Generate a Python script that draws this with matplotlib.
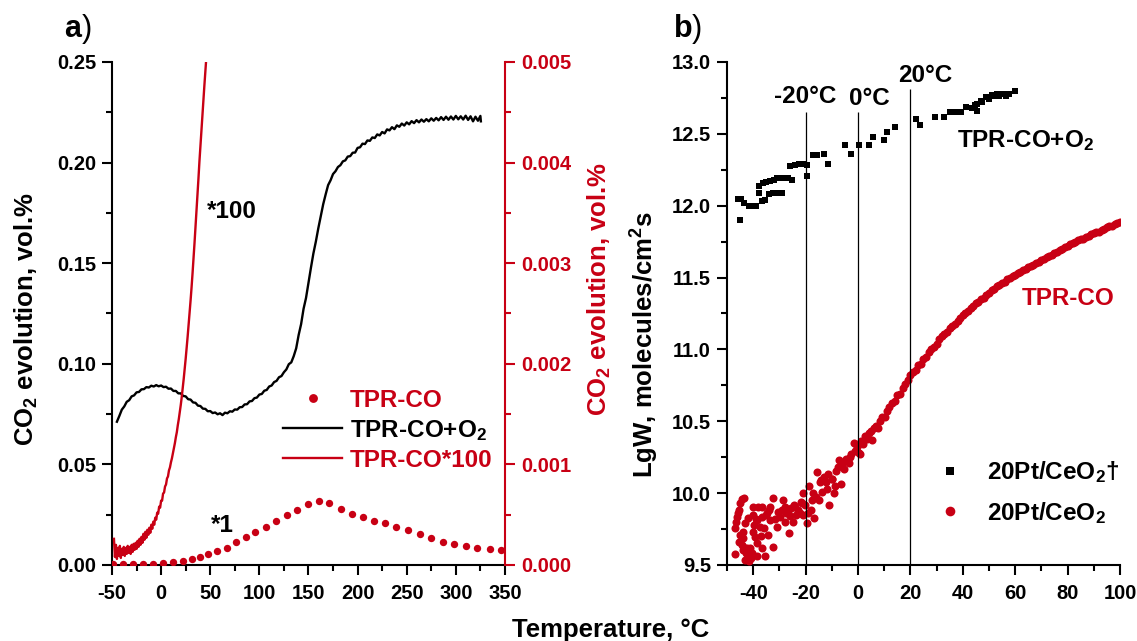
import matplotlib
matplotlib.use('Agg')
import matplotlib.pyplot as plt
from matplotlib.ticker import MultipleLocator, FormatStrFormatter

plt.rcParams['font.family'] = ['Liberation Sans', 'DejaVu Sans']
plt.rcParams['font.weight'] = 'bold'
plt.rcParams['mathtext.fontset'] = 'custom'
plt.rcParams['mathtext.rm'] = 'Liberation Sans:bold'
plt.rcParams['mathtext.it'] = 'Liberation Sans:bold:italic'
plt.rcParams['mathtext.bf'] = 'Liberation Sans:bold'
plt.rcParams['mathtext.default'] = 'rm'
plt.rcParams['axes.unicode_minus'] = False

RED = '#c80014'

# ---------------- panel a data ----------------
# TPR-CO (dots, left axis, *1)
tpr_T = [-48.6, -38.5, -28.3, -18.1, -8.0, 2.2, 12.4, 22.6, 31.1, 39.6, 48.1, 57.2,
         66.7, 76.2, 86.4, 95.9, 106.4, 116.9, 127.8, 138.6, 149.8, 160.4, 171.2,
         182.8, 194.1, 205.7, 216.7, 228.0, 239.6, 251.3, 263.3, 275.0, 287.0,
         298.6, 310.3, 322.0, 334.3, 346.0]
tpr_v = [0.0006, 0.0006, 0.0006, 0.0006, 0.0007, 0.0009, 0.0013, 0.0020, 0.0029,
         0.0042, 0.0056, 0.0070, 0.0085, 0.0112, 0.0137, 0.0165, 0.0191, 0.0220,
         0.0246, 0.0274, 0.0305, 0.0319, 0.0310, 0.0280, 0.0254, 0.0237, 0.0219,
         0.0207, 0.0191, 0.0174, 0.0153, 0.0133, 0.0116, 0.0103, 0.0093, 0.0083,
         0.0078, 0.0075]

# TPR-CO+O2 (black line, left axis)
o2_T = [-45.0, -42.5, -40.0, -37.5, -35.0, -32.5, -30.0, -27.5, -25.0, -22.5, -20.0,
        -17.5, -15.0, -12.5, -10.0, -7.5, -5.0, -2.5, 0.0, 2.5, 5.0, 7.5, 10.0, 12.5,
        15.0, 17.5, 20.0, 22.5, 25.0, 27.5, 30.0, 32.5, 35.0, 37.5, 40.0, 42.5, 45.0,
        47.5, 50.0, 52.5, 55.0, 57.5, 60.0, 62.5, 65.0, 67.5, 70.0, 72.5, 75.0, 77.5,
        80.0, 82.5, 85.0, 87.5, 90.0, 92.5, 95.0, 97.5, 100.0, 102.5, 105.0, 107.5,
        110.0, 112.5, 115.0, 117.5, 120.0, 122.5, 125.0, 127.5, 130.0, 132.5, 135.0,
        137.5, 140.0, 142.5, 145.0, 147.5, 150.0, 152.5, 155.0, 157.5, 160.0, 162.5,
        165.0, 167.5, 170.0, 172.5, 175.0, 177.5, 180.0, 182.5, 185.0, 187.5, 190.0,
        192.5, 195.0, 197.5, 200.0, 202.5, 205.0, 207.5, 210.0, 212.5, 215.0, 217.5,
        220.0, 222.5, 225.0, 227.5, 230.0, 232.5, 235.0, 237.5, 240.0, 242.5, 245.0,
        247.5, 250.0, 252.5, 255.0, 257.5, 260.0, 262.5, 265.0, 267.5, 270.0, 272.5,
        275.0, 277.5, 280.0, 282.5, 285.0, 287.5, 290.0, 292.5, 295.0, 297.5, 300.0,
        302.5, 305.0, 307.5, 310.0, 312.5, 315.0, 317.5, 320.0, 322.5, 325.0, 325.5]
o2_v = [0.0712, 0.0741, 0.0772, 0.0788, 0.0811, 0.0819, 0.0838, 0.0843, 0.0858, 0.0860,
        0.0873, 0.0874, 0.0884, 0.0882, 0.0891, 0.0887, 0.0894, 0.0888, 0.0892, 0.0884,
        0.0886, 0.0876, 0.0877, 0.0865, 0.0865, 0.0853, 0.0853, 0.0840, 0.0838, 0.0824,
        0.0822, 0.0808, 0.0806, 0.0792, 0.0790, 0.0777, 0.0776, 0.0764, 0.0765, 0.0755,
        0.0758, 0.0749, 0.0754, 0.0745, 0.0757, 0.0754, 0.0764, 0.0762, 0.0773, 0.0772,
        0.0784, 0.0785, 0.0798, 0.0799, 0.0813, 0.0815, 0.0829, 0.0832, 0.0847, 0.0850,
        0.0866, 0.0870, 0.0887, 0.0892, 0.0909, 0.0915, 0.0933, 0.0939, 0.0958, 0.0972,
        0.0998, 0.1007, 0.1038, 0.1077, 0.1143, 0.1197, 0.1273, 0.1327, 0.1403, 0.1477,
        0.1548, 0.1607, 0.1673, 0.1732, 0.1793, 0.1842, 0.1888, 0.1912, 0.1943, 0.1957,
        0.1978, 0.1987, 0.2006, 0.2011, 0.2030, 0.2032, 0.2049, 0.2050, 0.2073, 0.2076,
        0.2094, 0.2092, 0.2110, 0.2108, 0.2125, 0.2122, 0.2140, 0.2135, 0.2152, 0.2145,
        0.2165, 0.2160, 0.2176, 0.2166, 0.2185, 0.2178, 0.2194, 0.2184, 0.2200, 0.2190,
        0.2206, 0.2196, 0.2211, 0.2200, 0.2214, 0.2203, 0.2216, 0.2205, 0.2220, 0.2208,
        0.2222, 0.2210, 0.2226, 0.2212, 0.2228, 0.2213, 0.2229, 0.2214, 0.2232, 0.2215,
        0.2230, 0.2214, 0.2233, 0.2212, 0.2230, 0.2205, 0.2228, 0.2208, 0.2232, 0.2205]

# TPR-CO*100 (red line, right axis)
x100_T = [-48, -47, -46, -45, -44, -43, -42, -41, -40, -39, -38, -37, -36, -35, -34,
          -33, -32, -31, -30, -29, -28, -27, -26, -25, -24, -23, -22, -21, -20, -19,
          -18, -17, -16, -15, -14, -13, -12, -11, -10, -9, -8, -7, -6, -5, -4, -3, -2,
          -1, 0, 1, 2, 3, 4, 5, 6, 7, 8, 9, 10, 11, 12, 13, 14, 15, 16, 17, 18, 19, 20,
          21, 22, 23, 24, 25, 26, 27, 28, 29, 30, 31, 32, 33, 34, 35, 36, 37, 38, 39,
          40, 41, 42, 43, 44, 45, 46]
x100_v = [0.00026, 0.00008, 0.00020, 0.00006, 0.00017, 0.00009, 0.00019, 0.00007,
          0.00016, 0.00010, 0.00018, 0.00009, 0.00017, 0.00011, 0.00019, 0.00012,
          0.00018, 0.00011, 0.00020, 0.00013, 0.00021, 0.00015, 0.00022, 0.00016,
          0.00024, 0.00018, 0.00026, 0.00020, 0.00028, 0.00022, 0.00031, 0.00025,
          0.00033, 0.00027, 0.00035, 0.00030, 0.00037, 0.00032, 0.00040, 0.00036,
          0.00043, 0.00040, 0.00047, 0.00045, 0.00052, 0.00051, 0.00058, 0.00057,
          0.00064, 0.00064, 0.00071, 0.00072, 0.00078, 0.00080, 0.00086, 0.00088,
          0.00094, 0.00097, 0.00102, 0.00106, 0.00111, 0.00116, 0.00121, 0.00127,
          0.00132, 0.00139, 0.00145, 0.00152, 0.00159, 0.00167, 0.00176, 0.00185,
          0.00195, 0.00205, 0.00216, 0.00227, 0.00239, 0.00251, 0.00263, 0.00276,
          0.00290, 0.00305, 0.00320, 0.00336, 0.00352, 0.00368, 0.00384, 0.00401,
          0.00416, 0.00431, 0.00446, 0.00461, 0.00476, 0.00490, 0.00504]

# ---------------- panel b data ----------------
sq_T = [-45.9, -44.5, -45.0, -43.4, -41.7, -40.3, -38.9, -37.8, -36.6, -35.5, -37.8,
        -36.4, -35.0, -33.6, -32.2, -30.8, -29.4, -28.0, -26.6, -25.2, -34.1, -32.4,
        -30.8, -29.1, -25.9, -24.1, -22.4, -21.0, -19.3, -19.3, -17.1, -15.7, -12.9,
        -11.5, -4.9, -2.8, 0.3, 4.2, 5.6, 9.8, 10.9, 14.3, 22.1, 23.8, 29.4, 32.9,
        35.0, 37.1, 39.2, 41.3, 43.4, 45.5, 45.5, 46.9, 49.0, 51.0, 53.1, 55.2, 57.6,
        59.9, 44.5, 47.5, 50.0, 52.0, 54.0, 56.5]
sq_v = [12.05, 12.05, 11.90, 12.02, 12.00, 11.995, 12.00, 12.09, 12.03, 12.04, 12.14,
        12.16, 12.165, 12.17, 12.18, 12.19, 12.195, 12.195, 12.19, 12.18, 12.08, 12.09,
        12.09, 12.09, 12.275, 12.285, 12.29, 12.29, 12.285, 12.21, 12.35, 12.35, 12.36,
        12.29, 12.42, 12.36, 12.42, 12.42, 12.48, 12.46, 12.51, 12.55, 12.60, 12.56,
        12.62, 12.62, 12.65, 12.655, 12.655, 12.69, 12.68, 12.66, 12.71, 12.73, 12.755,
        12.77, 12.78, 12.775, 12.78, 12.795, 12.70, 12.72, 12.745, 12.76, 12.76, 12.765]

circ_T = [-46.9, -47.0, -46.2, -45.6, -44.4, -43.5, -45.0, -45.3, -44.4, -43.8, -42.8,
          -41.9, -42.5, -41.2, -43.1, -40.6, -43.8, -43.1, -41.9, -40.0, -40.0, -38.1,
          -36.8, -38.7, -40.0, -39.4, -38.5, -37.5, -36.5, -35.2, -35.6, -38.5, -36.5,
          -33.6, -32.4, -33.6, -34.3, -32.6, -31.1, -29.9, -28.6, -27.3, -26.4, -25.4,
          -24.5, -23.5, -22.8, -21.9, -20.9, -20.3, -19.6, -19.0, -20.9, -18.6, -17.7,
          -16.8, -16.0, -15.5, -14.5, -13.8, -12.9, -11.9, -10.9, -10.0, -9.3, -8.3,
          -7.2, -6.4, -5.2, -3.6, -2.7, -1.3, 0.6, -1.6, 1.9, 2.8, 4.1, 5.3, 6.0, 8.5,
          10.4,
          -46.5, -45.8, -44.9, -44.0, -43.0, -42.0, -41.5, -40.8, -39.8, -39.0, -37.2,
          -36.0, -34.8, -34.0, -31.8, -30.5, -29.0, -28.0, -27.8, -26.8, -25.9, -24.8,
          -23.9, -22.0, -21.3, -18.0, -17.3, -15.0, -14.0, -12.2, -11.3, -9.8, -8.8,
          -7.8, -6.0, -4.5, -3.0, -0.5, 0.2, 1.0, 3.5, 4.8, 6.8, 7.5, 9.2,
          11, 12, 13, 14, 15, 16, 17, 18, 19, 20, 21, 22, 23, 24, 25, 26, 27, 28, 29, 30,
          31, 32, 33, 34, 35, 36, 37, 38, 39, 40, 41, 42, 43, 44, 45, 46, 47, 48, 49, 50,
          51, 52, 53, 54, 55, 56, 57, 58, 59, 60, 61, 62, 63, 64, 65, 66, 67, 68, 69, 70,
          71, 72, 73, 74, 75, 76, 77, 78, 79, 80, 81, 82, 83, 84, 85, 86, 87, 88, 89, 90,
          91, 92, 93, 94, 95, 96, 97, 98, 99, 100]
circ_v = [9.577, 9.755, 9.836, 9.883, 9.957, 9.964, 9.709, 9.663, 9.64, 9.605, 9.582,
          9.559, 9.617, 9.617, 9.536, 9.582, 9.732, 9.79, 9.825, 9.906, 9.848, 9.902,
          9.906, 9.813, 9.732, 9.697, 9.651, 9.767, 9.836, 9.848, 9.559, 9.559, 9.617,
          9.906, 9.964, 9.813, 9.709, 9.628, 9.767, 9.836, 9.952, 9.859, 9.72, 9.894,
          9.917, 9.848, 9.883, 9.94, 9.998, 9.917, 9.79, 9.859, 9.848, 10.049, 9.952,
          9.825, 9.975, 10.15, 10.075, 10.006, 10.11, 10.03, 9.92, 10.10, 10.0, 10.156,
          10.23, 10.06, 10.167, 10.213, 10.27, 10.295, 10.27, 10.35, 10.34, 10.40, 10.42,
          10.37, 10.45, 10.50, 10.53,
          9.80, 9.86, 9.93, 9.69, 9.62, 9.60, 9.53, 9.55, 9.78, 9.82, 9.70,
          9.76, 9.86, 9.88, 9.82, 9.87, 9.88, 9.80, 9.90, 9.86, 9.84, 9.80,
          9.90, 9.86, 9.93, 9.88, 10.00, 9.95, 10.09, 10.08, 10.13, 10.10, 10.05,
          10.18, 10.20, 10.24, 10.25, 10.32, 10.28, 10.36, 10.38, 10.43, 10.47, 10.45, 10.53,
          10.57, 10.60, 10.63, 10.64, 10.68, 10.69, 10.73, 10.76, 10.79, 10.82, 10.84,
          10.86, 10.89, 10.90, 10.93, 10.95, 10.98, 11.00, 11.02, 11.04, 11.07, 11.09,
          11.11, 11.12, 11.15, 11.16, 11.18, 11.20, 11.22, 11.24, 11.25, 11.27, 11.29,
          11.30, 11.32, 11.33, 11.35, 11.36, 11.38, 11.39, 11.41, 11.42, 11.44, 11.45,
          11.46, 11.47, 11.49, 11.50, 11.51, 11.52, 11.53, 11.54, 11.55, 11.56, 11.57,
          11.58, 11.59, 11.60, 11.61, 11.62, 11.63, 11.64, 11.65, 11.66, 11.67, 11.68,
          11.69, 11.70, 11.71, 11.72, 11.73, 11.74, 11.75, 11.76, 11.77, 11.77, 11.78,
          11.79, 11.80, 11.81, 11.82, 11.82, 11.83, 11.84, 11.85, 11.86, 11.86, 11.87,
          11.88, 11.89]

vline_T = [-20, 0, 20]
vline_top = [12.655, 12.655, 12.81]
vline_labels = ['-20°C', '0°C', '20°C']
vline_label_x = [-20.2, 4.2, 25.8]
vline_label_y = [12.715, 12.70, 12.86]

# ---------------- figure ----------------
fig = plt.figure(figsize=(11.37, 6.41), dpi=100)
axa = fig.add_axes([0.0985, 0.1186, 0.3456, 0.7847])
axb = fig.add_axes([0.6394, 0.1186, 0.3456, 0.7847])

LW_SP = 1.5


def style_axes(ax):
    ax.spines['top'].set_visible(False)
    for s in ['left', 'bottom', 'right']:
        ax.spines[s].set_linewidth(LW_SP)
    ax.tick_params(which='major', direction='out', length=7.5, width=LW_SP,
                   labelsize=14.5, pad=4)
    ax.tick_params(which='minor', direction='out', length=4, width=LW_SP)
    ax.tick_params(axis='x', pad=6)


# panel a
axa.set_xlim(-50, 350)
axa.set_ylim(0, 0.25)
style_axes(axa)
axa.spines['right'].set_visible(False)
axa.xaxis.set_major_locator(MultipleLocator(50))
axa.xaxis.set_minor_locator(MultipleLocator(25))
axa.yaxis.set_major_locator(MultipleLocator(0.05))
axa.yaxis.set_minor_locator(MultipleLocator(0.025))
axa.yaxis.set_major_formatter(FormatStrFormatter('%.2f'))

h1, = axa.plot(tpr_T, tpr_v, 'o', color=RED, ms=5.3, mew=0, zorder=3)
h2, = axa.plot(o2_T, o2_v, '-', color='black', lw=1.7, zorder=2)

ax2 = axa.twinx()
ax2.set_ylim(0, 0.005)
ax2.spines['top'].set_visible(False)
ax2.spines['left'].set_visible(False)
ax2.spines['bottom'].set_visible(False)
ax2.spines['right'].set_linewidth(LW_SP)
ax2.spines['right'].set_color(RED)
ax2.yaxis.set_major_locator(MultipleLocator(0.001))
ax2.yaxis.set_minor_locator(MultipleLocator(0.0005))
ax2.yaxis.set_major_formatter(FormatStrFormatter('%.3f'))
ax2.tick_params(which='major', direction='out', length=7.5, width=LW_SP,
                labelsize=14.5, pad=4, colors=RED)
ax2.tick_params(which='minor', direction='out', length=4, width=LW_SP, colors=RED)
h3, = ax2.plot(x100_T, x100_v, '-', color=RED, lw=1.7)

leg = ax2.legend([h1, h2, h3], ['TPR-CO', 'TPR-CO+O$_2$', 'TPR-CO*100'],
                 loc='center left', bbox_to_anchor=(0.435, 0.268), frameon=False,
                 fontsize=17.5, handlelength=2.45, handletextpad=0.3,
                 labelspacing=0.25, borderaxespad=0, borderpad=0, markerscale=1.2)
for t, c in zip(leg.get_texts(), [RED, 'black', RED]):
    t.set_color(c)

axa.text(46.7, 0.1725, '*100', fontsize=17.5, ha='left', va='baseline')
axa.text(50.8, 0.0164, '*1', fontsize=17.5, ha='left', va='baseline')

# panel b
axb.set_xlim(-50, 100)
axb.set_ylim(9.5, 13.0)
style_axes(axb)
axb.spines['right'].set_visible(False)
axb.xaxis.set_major_locator(MultipleLocator(20))
axb.xaxis.set_minor_locator(MultipleLocator(10))
axb.yaxis.set_major_locator(MultipleLocator(0.5))
axb.yaxis.set_minor_locator(MultipleLocator(0.25))
axb.yaxis.set_major_formatter(FormatStrFormatter('%.1f'))

hs, = axb.plot(sq_T, sq_v, 's', color='black', ms=4.9, mew=0, zorder=3)
hc, = axb.plot(circ_T, circ_v, 'o', color=RED, ms=5.8, mew=0, zorder=3)
axb.vlines(vline_T, 9.5, vline_top, colors='black', lw=0.9, zorder=4)
for xl, yl, s in zip(vline_label_x, vline_label_y, vline_labels):
    axb.text(xl, yl, s, fontsize=17.5, ha='center', va='baseline')

axb.text(37.8, 12.41, 'TPR-CO+O$_2$', fontsize=17.5, ha='left', va='baseline')
axb.text(62.6, 11.31, 'TPR-CO', fontsize=17.5, ha='left', va='baseline', color=RED)

legb = axb.legend([hs, hc], ['20Pt/CeO$_2$†', '20Pt/CeO$_2$'],
                  loc='center left', bbox_to_anchor=(0.537, 0.144), frameon=False,
                  fontsize=17.5, handlelength=1.0, handletextpad=1.0,
                  labelspacing=0.6, borderaxespad=0, borderpad=0, markerscale=1.2)

# axis labels
fig.text(26 / 1137, 1 - 319 / 641, 'CO$_2$ evolution, vol.%', rotation=90,
         ha='center', va='center', fontsize=18.5)
fig.text(599 / 1137, 1 - 289 / 641, 'CO$_2$ evolution, vol.%', rotation=90,
         ha='center', va='center', fontsize=18.5, color=RED)
fig.text(645 / 1137, 1 - 345 / 641, 'LgW, molecules/cm$^2$s', rotation=90,
         ha='center', va='center', fontsize=18.5)
fig.text(611 / 1137, 1 - 637 / 641, 'Temperature, °C', ha='center', va='baseline',
         fontsize=18.5)

# panel letters
fig.text(64 / 1137, 1 - 37 / 641, 'a', fontsize=22, ha='left', va='baseline')
fig.text(82 / 1137, 1 - 37 / 641, ')', fontsize=22, fontweight='normal', ha='left',
         va='baseline')
fig.text(674 / 1137, 1 - 37 / 641, 'b', fontsize=22, ha='left', va='baseline')
fig.text(692 / 1137, 1 - 37 / 641, ')', fontsize=22, fontweight='normal', ha='left',
         va='baseline')

fig.savefig('out.png', dpi=100)
